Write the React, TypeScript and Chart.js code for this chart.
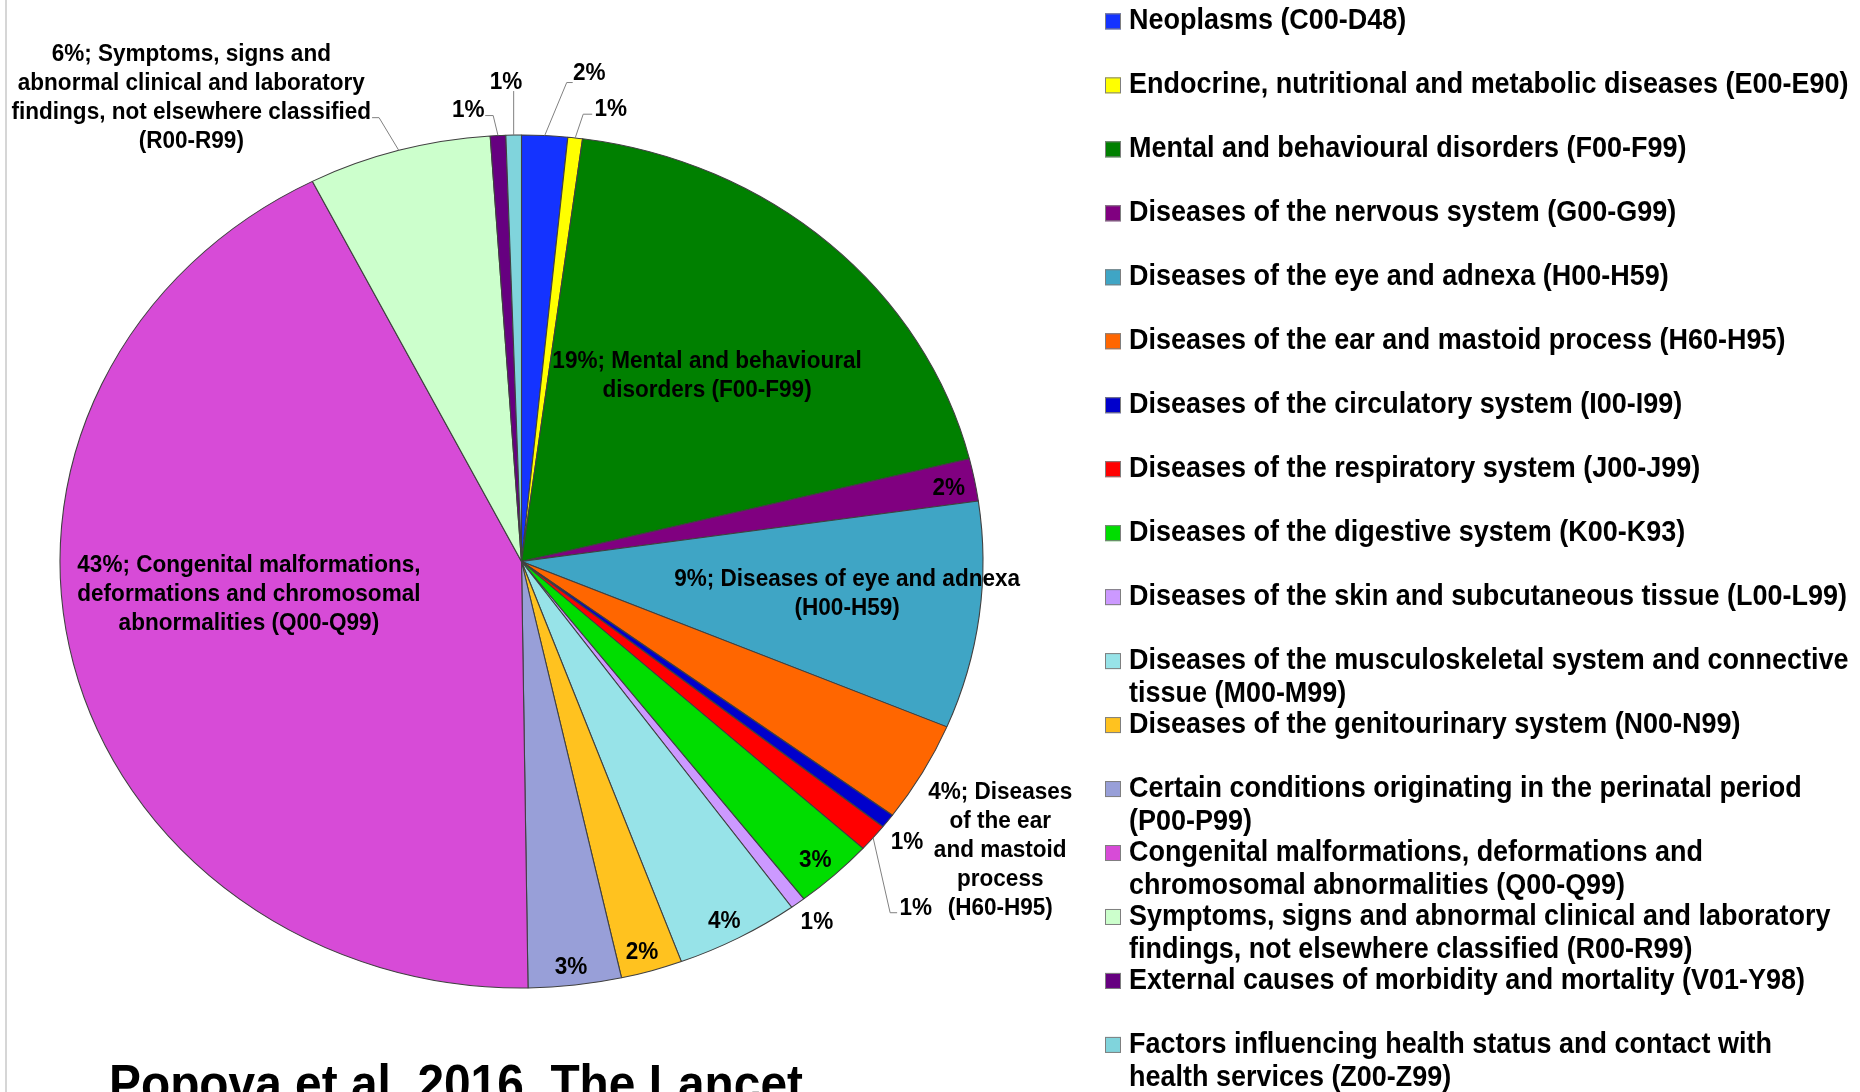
import React, { useEffect, useRef } from "react";
import { Chart, registerables } from "chart.js";

Chart.register(...registerables);

// ---------- data ----------
const categories: string[][] = [
  ["Neoplasms (C00-D48)"],
  ["Endocrine, nutritional and metabolic diseases (E00-E90)"],
  ["Mental and behavioural disorders (F00-F99)"],
  ["Diseases of the nervous system (G00-G99)"],
  ["Diseases of the eye and adnexa (H00-H59)"],
  ["Diseases of the ear and mastoid process (H60-H95)"],
  ["Diseases of the circulatory system (I00-I99)"],
  ["Diseases of the respiratory system (J00-J99)"],
  ["Diseases of the digestive system (K00-K93)"],
  ["Diseases of the skin and subcutaneous tissue (L00-L99)"],
  ["Diseases of the musculoskeletal system and connective", "tissue (M00-M99)"],
  ["Diseases of the genitourinary system (N00-N99)"],
  ["Certain conditions originating in the perinatal period", "(P00-P99)"],
  ["Congenital malformations, deformations and", "chromosomal abnormalities (Q00-Q99)"],
  ["Symptoms, signs and abnormal clinical and laboratory", "findings, not elsewhere classified (R00-R99)"],
  ["External causes of morbidity and mortality (V01-Y98)"],
  ["Factors influencing health status and contact with", "health services (Z00-Z99)"],
];

const values = [1.6, 0.51, 19.0, 1.6, 8.6, 3.8, 0.54, 1.06, 2.78, 0.52, 4.32, 2.15, 3.25, 42.7, 6.4, 0.54, 0.54];

const colors = [
  "#1433FF", "#FFFF00", "#008000", "#800080", "#3FA5C5", "#FF6600",
  "#0000CC", "#FF0000", "#00DD00", "#CC99FF", "#97E3E8", "#FFC21F",
  "#989FD8", "#D74BD7", "#CCFFCC", "#660080", "#80D4DC",
];

const pieLabelNames: string[][] = [
  [], [],
  ["Mental and behavioural", "disorders (F00-F99)"],
  [],
  ["Diseases of eye and adnexa", "(H00-H59)"],
  ["Diseases", "of the ear", "and mastoid", "process", "(H60-H95)"],
  [], [], [], [], [], [], [],
  ["Congenital malformations,", "deformations and chromosomal", "abnormalities (Q00-Q99)"],
  ["Symptoms, signs and", "abnormal clinical and laboratory", "findings, not elsewhere classified", "(R00-R99)"],
  [], [],
];

const sourceTitle = "Popova et al. 2016. The Lancet";

// ---------- layout / style ----------
const FONT = '"Liberation Sans", Arial, Helvetica, sans-serif';
const STRETCH_X = 461.5 / 426.5;
const PIE_RADIUS = 426.5;
const LABEL_LINE = 29;
const LABEL_DY = 2.5;

type Placement = { rho: number; dA: number; leader?: [number, number, number] };
const labelPlacement: Placement[] = [
  { rho: 1.16, dA: 4.4, leader: [22, -53, 6] },
  { rho: 1.083, dA: 3.6, leader: [8, -23.7, 9] },
  { rho: 0.597, dA: 0.5 },
  { rho: 0.943, dA: 0.15 },
  { rho: 0.709, dA: -1.7 },
  { rho: 1.235, dA: 3.2 },
  { rho: 1.06, dA: 0.5 },
  { rho: 1.175, dA: 3.0, leader: [17, 75, 7] },
  { rho: 0.942, dA: 0.2 },
  { rho: 1.057, dA: -0.5 },
  { rho: 0.945, dA: 0.35 },
  { rho: 0.948, dA: 0.4 },
  { rho: 0.952, dA: 0.2 },
  { rho: 0.595, dA: 7.0 },
  { rho: 1.306, dA: -17.8, leader: [-19.7, -32.7, -7] },
  { rho: 1.07, dA: -3.26, leader: [-4.8, -20, -8] },
  { rho: 1.13, dA: -0.72, leader: [0, -44, 0] },
];

const LEGEND = { boxX: 1105, box: 16, textX: 1129, top: 21.4, pitch: 63.97, lineGap: 33.2 };

// narrow-looking bold text: larger size squeezed horizontally
function narrowText(ctx: CanvasRenderingContext2D, text: string, x: number, y: number, sx: number) {
  ctx.save();
  ctx.translate(x, y);
  ctx.scale(sx, 1);
  ctx.fillText(text, 0, 0);
  ctx.restore();
}

export default function App() {
  const ref = useRef<HTMLCanvasElement>(null);

  useEffect(() => {
    const canvas = ref.current as HTMLCanvasElement;

    const ellipse = {
      id: "ellipse",
      beforeDatasetsDraw(chart: any) {
        const arc = chart.getDatasetMeta(0).data[0];
        const ctx = chart.ctx;
        ctx.save();
        ctx.translate(arc.x, 0);
        ctx.scale(STRETCH_X, 1);
        ctx.translate(-arc.x, 0);
      },
      afterDatasetsDraw(chart: any) {
        chart.ctx.restore();
      },
    };

    const annotate = {
      id: "annotate",
      afterDraw(chart: any) {
        const ctx: CanvasRenderingContext2D = chart.ctx;
        const meta = chart.getDatasetMeta(0);
        const data: number[] = chart.data.datasets[0].data;
        const total = data.reduce((a, b) => a + b, 0);

        // left frame line
        ctx.save();
        ctx.strokeStyle = "#c8c8c8";
        ctx.lineWidth = 1.5;
        ctx.beginPath();
        ctx.moveTo(6, 0);
        ctx.lineTo(6, chart.height);
        ctx.stroke();
        ctx.restore();

        // pie labels
        ctx.save();
        ctx.font = `bold 24.5px ${FONT}`;
        ctx.fillStyle = "#000";
        ctx.textAlign = "center";
        ctx.textBaseline = "middle";
        meta.data.forEach((arc: any, i: number) => {
          const p = labelPlacement[i];
          const cx = arc.x, cy = arc.y, R = arc.outerRadius;
          const m0 = (arc.startAngle + arc.endAngle) / 2;
          const m = m0 + (p.dA * Math.PI) / 180;
          const lx = cx + STRETCH_X * p.rho * R * Math.cos(m);
          const ly = cy + p.rho * R * Math.sin(m) + LABEL_DY;
          const pct = Math.round((data[i] / total) * 100);
          const names = pieLabelNames[i];
          const lines = names.length ? names.map((t, j) => (j === 0 ? `${pct}%; ${t}` : t)) : [`${pct}%`];
          const y0 = ly - ((lines.length - 1) * LABEL_LINE) / 2;
          lines.forEach((t, j) => narrowText(ctx, t, lx, y0 + j * LABEL_LINE, 0.92));

          if (p.leader) {
            const ex = cx + STRETCH_X * R * Math.cos(m0);
            const ey = cy + R * Math.sin(m0);
            const [dx, dy, hx] = p.leader;
            ctx.save();
            ctx.strokeStyle = "#808080";
            ctx.lineWidth = 1;
            ctx.beginPath();
            ctx.moveTo(ex, ey);
            ctx.lineTo(ex + dx, ey + dy);
            ctx.lineTo(ex + dx + hx, ey + dy);
            ctx.stroke();
            ctx.restore();
          }
        });
        ctx.restore();

        // legend
        ctx.save();
        ctx.font = `bold 29px ${FONT}`;
        ctx.textAlign = "left";
        ctx.textBaseline = "middle";
        const bg: string[] = chart.data.datasets[0].backgroundColor;
        (chart.data.labels as string[][]).forEach((lines, i) => {
          const y = LEGEND.top + i * LEGEND.pitch;
          ctx.fillStyle = bg[i];
          ctx.fillRect(LEGEND.boxX, y - LEGEND.box / 2, LEGEND.box, LEGEND.box);
          ctx.strokeStyle = "#7f7f7f";
          ctx.lineWidth = 1;
          ctx.strokeRect(LEGEND.boxX + 0.5, y - LEGEND.box / 2 + 0.5, LEGEND.box - 1, LEGEND.box - 1);
          ctx.fillStyle = "#000";
          lines.forEach((t, j) => narrowText(ctx, t, LEGEND.textX, y + j * LEGEND.lineGap, 0.93));
        });
        ctx.restore();

        // source title (cut by bottom edge)
        ctx.save();
        ctx.font = `bold 52px ${FONT}`;
        ctx.fillStyle = "#000";
        ctx.textAlign = "left";
        ctx.textBaseline = "alphabetic";
        narrowText(ctx, sourceTitle, 109, 1101, 0.92);
        ctx.restore();
      },
    };

    const chart = new Chart(canvas, {
      type: "pie",
      data: {
        labels: categories as any,
        datasets: [
          {
            data: values,
            backgroundColor: colors,
            borderColor: "#404040",
            borderWidth: 1,
            radius: PIE_RADIUS,
          } as any,
        ],
      },
      options: {
        responsive: false,
        animation: false,
        events: [],
        layout: { padding: { left: 95, right: 912, top: 135, bottom: 104 } },
        plugins: {
          legend: { display: false },
          tooltip: { enabled: false },
        },
      },
      plugins: [ellipse, annotate],
    });

    return () => chart.destroy();
  }, []);

  return (
    <div style={{ position: "fixed", left: 0, top: 0, width: 1860, height: 1092, background: "#fff", overflow: "hidden" }}>
      <canvas ref={ref} width={1860} height={1092} style={{ display: "block" }} />
    </div>
  );
}
